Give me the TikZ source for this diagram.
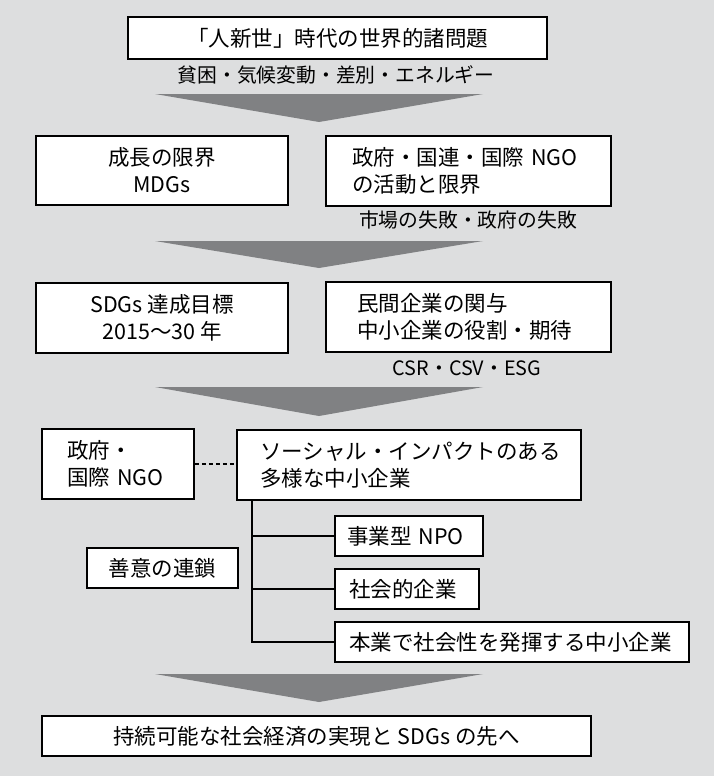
\documentclass[tikz,border=0pt]{standalone}
\usepackage{fontspec}
\setmainfont{Noto Sans CJK JP}
\definecolor{bggray}{RGB}{221,222,223}
\definecolor{arrowgray}{RGB}{128,129,131}

\begin{document}
\begin{tikzpicture}[x=1pt,y=-1pt,line width=1.6pt,
  box/.style={draw,fill=white,inner ysep=0pt,align=center,font=\fontsize{21.5}{27}\selectfont},
  lbox/.style={box,align=left},
  note/.style={inner sep=0pt,font=\fontsize{19.8}{27}\selectfont}]
\fill[bggray] (0,0) rectangle (714,776);
\useasboundingbox (0,0) rectangle (714,776);
\node[box,minimum width=419pt,minimum height=42pt] (probs) at (337.5,38) {「人新世」時代の世界的諸問題};
\node[note] (probsnote) at (336,75) {貧困・気候変動・差別・エネルギー};
\fill[arrowgray] (155,94)--(483,94)--(319,122)--cycle;
\node[box,minimum width=252pt,minimum height=69pt] (limits) at (162,170.5) {成長の限界\\MDGs};
\node[lbox,text width=233pt,inner xsep=26pt,minimum height=70pt] (govt) at (468.5,171) {政府・国連・国際~NGO\\の活動と限界};
\node[note] (govtnote) at (468,220) {市場の失敗・政府の失敗};
\fill[arrowgray] (155,241)--(483,241)--(319,268)--cycle;
\node[box,minimum width=252pt,minimum height=70pt] (sdgs) at (162,318) {SDGs 達成目標\\2015〜30 年};
\node[lbox,text width=223pt,inner xsep=31pt,minimum height=70pt] (firms) at (468.5,317) {民間企業の関与\\中小企業の役割・期待};
\node[note] (firmsnote) at (467,368) {CSR・CSV・ESG};
\fill[arrowgray] (155,387)--(483,387)--(319,416)--cycle;
\node[lbox,text width=102pt,inner xsep=25pt,minimum height=70pt] (ngo) at (118,464) {政府・\\国際~NGO};
\node[lbox,text width=298pt,inner xsep=23pt,minimum height=70pt] (social) at (409,465) {ソーシャル・インパクトのある\\多様な中小企業};
\node[lbox,text width=124pt,inner xsep=12pt,minimum height=40pt] (npo) at (409,536) {事業型~NPO};
\node[lbox,text width=116pt,inner xsep=14pt,minimum height=40pt] (socent) at (407,589) {社会的企業};
\node[lbox,text width=326pt,inner xsep=14pt,minimum height=40pt] (sme) at (512,642) {本業で社会性を発揮する中小企業};
\node[box,minimum width=151pt,minimum height=40pt] (chain) at (162.5,568) {善意の連鎖};
\coordinate (trunk) at ([xshift=16pt]social.south west);
\draw[dashed,line width=1.3pt,dash pattern=on 4pt off 3pt] (ngo.east) -- (ngo.east -| social.west);
\draw (trunk) |- (sme.west);
\draw (trunk |- npo.west) -- (npo.west);
\draw (trunk |- socent.west) -- (socent.west);
\fill[arrowgray] (155,674)--(483,674)--(319,702)--cycle;
\node[box,minimum width=549pt,minimum height=40pt] (goal) at (316.5,736) {持続可能な社会経済の実現と SDGs の先へ};
\end{tikzpicture}
\end{document}
